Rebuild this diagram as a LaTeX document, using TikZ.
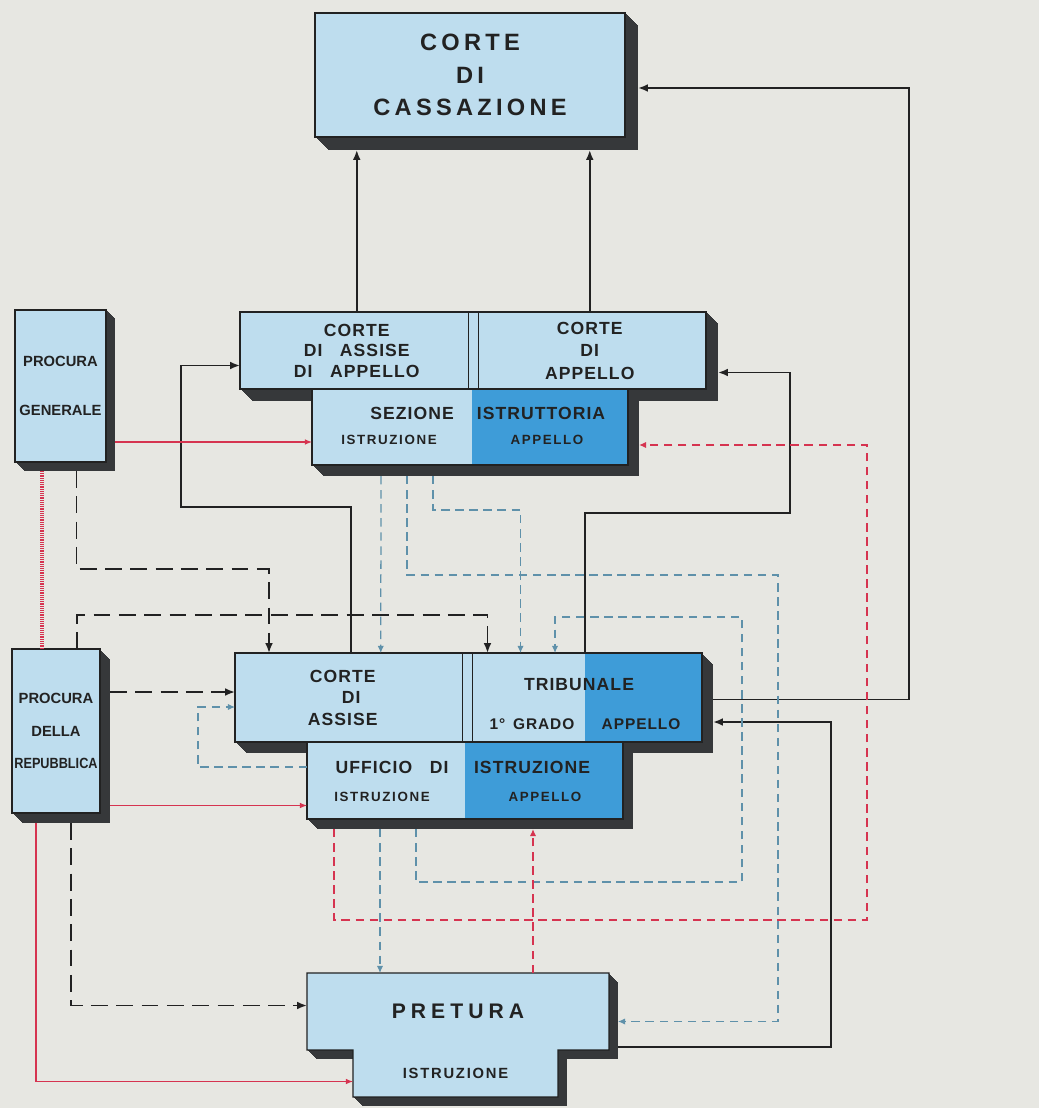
\documentclass[tikz,border=0pt]{standalone}
\usepackage{fontspec}
\setmainfont{Liberation Sans}
\newfontfamily\cassfont[LetterSpace=18]{Liberation Sans}
\newfontfamily\labfont[LetterSpace=6]{Liberation Sans}
\newfontfamily\tinyfont[LetterSpace=12]{Liberation Sans}
\newfontfamily\procfont{Liberation Sans}
\newfontfamily\pretfont[LetterSpace=24]{Liberation Sans}
\usetikzlibrary{arrows.meta,calc}
\definecolor{paper}{HTML}{E7E7E2}
\definecolor{pale}{HTML}{BEDDEE}
\definecolor{deep}{HTML}{3E9CD8}
\definecolor{shadowc}{HTML}{36383A}
\definecolor{ink}{HTML}{222222}
\definecolor{redc}{HTML}{D63450}
\definecolor{bluec}{HTML}{5F91AA}
\pgfdeclarelayer{bg}
\pgfdeclarelayer{shade}
\pgfsetlayers{bg,shade,main}

\begin{document}
\begin{tikzpicture}[
  x=0.025cm, y=-0.025cm,
  face/.style={fill=pale, text=ink, inner sep=0pt, outer sep=0pt, anchor=north west, align=center},
  deepface/.style={face, fill=deep},
  dims/.style 2 args={minimum width=#1*0.025cm, minimum height=#2*0.025cm},
  rim/.style={draw=ink, line width=0.8pt},
  divider/.style={draw=ink, line width=0.7pt, double=pale, double distance=0.24cm},
  cassT/.style={font=\cassfont\bfseries\fontsize{16.8}{23}\selectfont},
  procT/.style={font=\procfont\bfseries\fontsize{10.5}{23}\selectfont},
  midT/.style={font=\labfont\bfseries\fontsize{12.5}{15}\selectfont, text=ink, inner sep=0pt},
  mid11/.style={font=\labfont\bfseries\fontsize{11}{13}\selectfont, text=ink, inner sep=0pt},
  smallT/.style={font=\tinyfont\bfseries\fontsize{9.5}{12}\selectfont, text=ink, inner sep=0pt},
  pretF/.style={font=\pretfont\bfseries\fontsize{15}{18}\selectfont},
  blackarr/.style={draw=ink, line width=1.3pt, -{Latex[length=7pt,width=5.5pt]}},
  blackdash/.style={blackarr, dash pattern=on 12pt off 6pt},
  redarr/.style={draw=redc, line width=0.8pt, -{Latex[length=5pt,width=4pt]}},
  reddash/.style={draw=redc, line width=1.1pt, dash pattern=on 6pt off 4pt, -{Latex[length=5pt,width=4.5pt]}},
  bluedash/.style={draw=bluec, line width=0.9pt, dash pattern=on 6pt off 4pt, -{Latex[length=5pt,width=4.5pt]}},
  hatch/.style={draw=redc, line width=2.4pt, dash pattern=on 0.7pt off 0.6pt}
]
\useasboundingbox (0,0) rectangle (1039,1108);
\begin{pgfonlayer}{bg}
\fill[paper] (0,0) rectangle (1039,1108);
\end{pgfonlayer}

% courts
\node[face, rim, dims={310}{124}, cassT] (cass) at (315,13) {CORTE\\DI\\CASSAZIONE};
\node[face, dims={233.5}{77}, midT, font=\labfont\bfseries\fontsize{12.5}{14.6}\selectfont] (caa) at (240,312) {CORTE\\DI\quad ASSISE\\DI\quad APPELLO};
\node[face, dims={232.5}{77}, midT, font=\labfont\bfseries\fontsize{12.5}{16}\selectfont] (ca) at (473.5,312) {CORTE\\DI\\APPELLO};
\node[face, dims={160}{76}] (sezL) at (312,389) {};
\node[deepface, dims={156}{76}] (sezR) at (472,389) {};
\node[face, dims={232.5}{89}, midT, font=\labfont\bfseries\fontsize{12.5}{15.3}\selectfont] (cda) at (235,653) {CORTE\hspace*{12pt}\\DI\hspace*{12pt}\\ASSISE\hspace*{12pt}};
\node[face, dims={117.5}{89}] (tribL) at (467.5,653) {};
\node[deepface, dims={117}{89}] (tribR) at (585,653) {};
\node[face, dims={158}{77}] (uffL) at (307,742) {};
\node[deepface, dims={158}{77}] (uffR) at (465,742) {};
\node[face, dims={302}{77}, pretF] (pretT) at (307,973) {PRETURA};
\node[face, dims={205}{47}, smallT, font=\tinyfont\bfseries\fontsize{10.5}{12}\selectfont] (pretB) at (353,1050) {ISTRUZIONE};

% prosecutors
\node[face, rim, dims={91}{152}, procT, font=\procfont\bfseries\fontsize{10.5}{35}\selectfont] (pg) at (15,310) {PROCURA\\GENERALE};
\node[face, rim, dims={88}{164}, procT] (pr) at (12,649) {PROCURA\\DELLA\\{\addfontfeature{FakeStretch=0.86}REPUBBLICA}};

% labels of the split boxes
\node[midT] (sezA) at (412,413) {SEZIONE};
\node[smallT] (sezB) at (389,440) {ISTRUZIONE};
\node[midT] (sezC) at (541,413) {ISTRUTTORIA};
\node[smallT] (sezD) at (547,440) {APPELLO};
\node[midT] (triA) at (579,685) {TRIBUNALE};
\node[mid11] (triB) at (532,724) {1°\enspace GRADO};
\node[mid11] (triC) at (641,724) {APPELLO};
\node[midT] (ufA) at (392,767) {UFFICIO\quad DI};
\node[smallT] (ufB) at (382,797) {ISTRUZIONE};
\node[midT] (ufC) at (532,767) {ISTRUZIONE};
\node[smallT] (ufD) at (545,797) {APPELLO};

% outlines
\draw[divider] (caa.north east) -- (caa.south east);
\draw[rim] (caa.north west) rectangle (ca.south east);
\draw[rim] (sezL.north west) rectangle (sezR.south east);
\draw[divider] (cda.north east) -- (cda.south east);
\draw[rim] (cda.north west) rectangle (tribR.south east);
\draw[rim] (uffL.north west) rectangle (uffR.south east);
\draw[rim] (pretT.north west) -- (pretT.north east) -- (pretT.south east) -- (pretB.north east)
  -- (pretB.south east) -- (pretB.south west) -- (pretB.north west) -- (pretT.south west) -- cycle;

% block shadows
\begin{pgfonlayer}{shade}
\foreach \n/\dep in {cass/13, pg/9, pr/10, caa/12, ca/12, sezL/11, sezR/11, cda/11, tribL/11, tribR/11, uffL/10, uffR/10, pretT/9, pretB/9}
  \foreach \k in {0.5,1,...,\dep}
    \fill[shadowc] ([shift={(\k,\k)}]\n.north west) rectangle ([shift={(\k,\k)}]\n.south east);
\end{pgfonlayer}

% appeals to the Cassazione
\draw[blackarr] (caa.north) -- ($(caa.north |- cass.south)+(0,13)$);
\draw[blackarr] (ca.north) -- ($(ca.north |- cass.south)+(0,13)$);
\draw[blackarr] ($(tribR.east)+(11,2)$) -- ++(196,0) |- ($(cass.east)+(13,13)$);

% appeals to the second degree
\draw[blackarr] (cda.north) -- ++(0,-146) -- ++(-170,0) |- ($(caa.west)+(0,15)$);
\draw[blackarr] (tribR.north west) -- ++(0,-140) -- ++(205,0) |- ($(ca.east)+(12,22)$);
\draw[blackarr] ($(pretT.south east)+(9,-3)$) -- ++(213,0) |- ($(tribR.south east)+(11,-20)$);

% procura generale
\draw[hatch] ($(pg.south)+(-18.5,9)$) -- ($(pr.north)+(-14,0)$);
\draw[blackdash] ($(pg.south)+(16,9)$) -- ++(0,98) -| ($(cda.north west)+(34,0)$);
\draw[redarr] ($(sezL.west -| pg.east)+(9,15)$) -- ($(sezL.west)+(0,15)$);

% procura della repubblica
\draw[blackdash] ($(pr.north)+(21,0)$) -- ++(0,-34) -| ($(tribL.north west)+(20,0)$);
\draw[blackdash] ($(cda.west -| pr.east)+(10,-5.5)$) -- ($(cda.west)+(0,-5.5)$);
\draw[redarr] ($(uffL.west -| pr.east)+(10,25)$) -- ($(uffL.west)+(0,25)$);
\draw[blackdash] ($(pr.south)+(15,10)$) |- ($(pretT.west)+(0,-6)$);
\draw[redarr] ($(pr.south)+(-20,10)$) |- ($(pretB.west)+(0,8)$);

% sezione istruttoria
\draw[bluedash] ($(sezL.south)+(-11,11)$) -- ($(cda.north)+(29.5,0)$);
\draw[bluedash] ($(sezL.south)+(15,11)$) -- ++(0,99) -- ++(371,0) |- ($(pretT.east)+(9,10)$);
\draw[bluedash] ($(sezL.south)+(41,11)$) -- ++(0,34) -| ($(tribL.north west)+(53,0)$);

% ufficio istruzione
\draw[bluedash] ($(uffL.west)+(0,-13.5)$) -- ++(-109,0) |- ($(cda.west)+(0,9.5)$);
\draw[bluedash] ($(uffL.south)+(-6,10)$) -- ($(pretT.north)+(-78,0)$);
\draw[bluedash] ($(uffL.south)+(30,10)$) -- ++(0,53) -- ++(326,0) -- ++(0,-265) -| ($(tribL.north east)+(-30,0)$);
\draw[reddash] ($(uffL.south west)+(27,10)$) -- ++(0,91) -- ++(533,0) |- ($(sezR.east)+(11,18)$);
\draw[reddash] ($(pretT.north)+(75,0)$) -- ($(uffR.south)+(-11,10)$);
\end{tikzpicture}
\end{document}
